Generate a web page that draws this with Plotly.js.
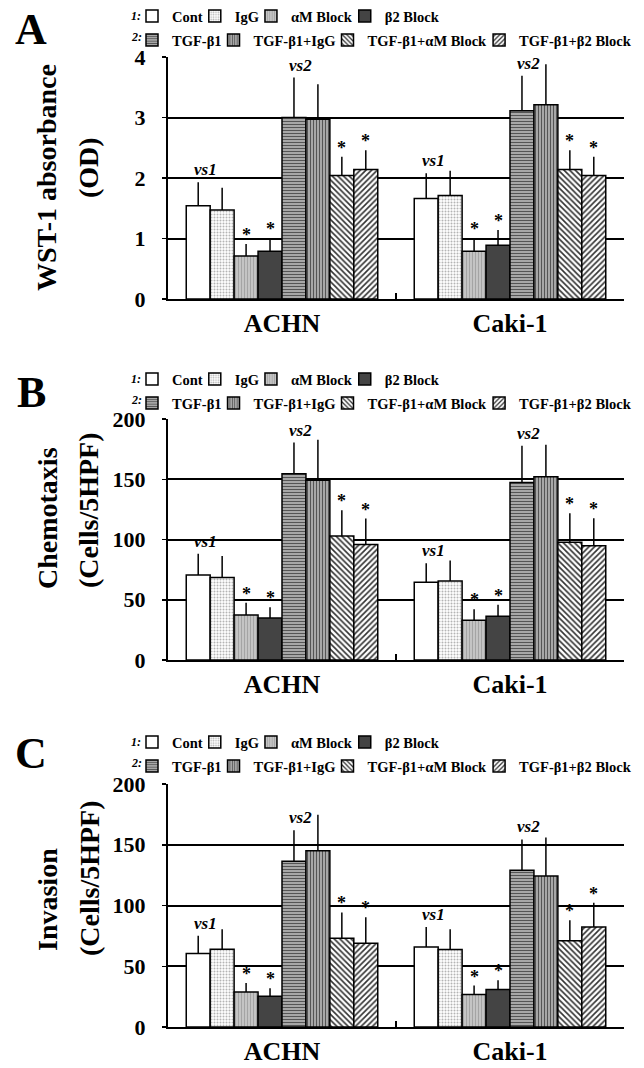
<!DOCTYPE html>
<html>
<head>
<meta charset="utf-8">
<script src="https://cdn.plot.ly/plotly-3.0.1.min.js"></script>
<style>
  html, body { margin: 0; padding: 0; background: #ffffff; }
  #chart { width: 644px; height: 1068px; }
</style>
</head>
<body>
<div id="chart"></div>
<script>
// ---------------- DATA ----------------
const categories = ['ACHN', 'Caki-1'];
const seriesNames = ['Cont', 'IgG', 'αM Block', 'β2 Block',
  'TGF-β1', 'TGF-β1+IgG', 'TGF-β1+αM Block', 'TGF-β1+β2 Block'];

// Panel A: WST-1 absorbance (OD)
const wstACHN    = [1.54, 1.47, 0.71, 0.79, 3.00, 2.97, 2.04, 2.14];
const wstErrACHN = [0.39, 0.37, 0.20, 0.21, 0.66, 0.58, 0.31, 0.32];
const wstCaki    = [1.66, 1.71, 0.79, 0.89, 3.11, 3.21, 2.14, 2.04];
const wstErrCaki = [0.42, 0.41, 0.21, 0.25, 0.58, 0.67, 0.32, 0.31];

// Panel B: Chemotaxis (Cells/5HPF)
const chemoACHN    = [70.6, 68.4, 37.4, 34.9, 154.5, 149.2, 103.0, 95.8];
const chemoErrACHN = [17.5, 18.0, 10.2, 8.9, 26.0, 33.5, 21.3, 21.6];
const chemoCaki    = [64.5, 65.6, 33.0, 36.3, 147.3, 152.0, 97.8, 94.9];
const chemoErrCaki = [15.8, 16.9, 9.1, 9.6, 30.4, 26.6, 24.0, 22.8];

// Panel C: Invasion (Cells/5HPF)
const invACHN    = [60.5, 64.0, 28.8, 25.3, 136.5, 145.0, 73.1, 69.0];
const invErrACHN = [14.5, 16.5, 7.4, 6.6, 25.5, 29.7, 21.2, 21.4];
const invCaki    = [65.9, 63.8, 26.7, 30.8, 129.1, 124.2, 70.9, 82.4];
const invErrCaki = [16.5, 16.7, 7.4, 7.7, 25.3, 31.8, 17.0, 19.8];

// significance marks
const starSeries = [2, 3, 6, 7];
const yTickLabelsA = ['0', '1', '2', '3', '4'];
const yTickLabelsBC = ['0', '50', '100', '150', '200'];

// ---------------- STYLE ----------------
const SERIF = '"Liberation Serif", "Times New Roman", Times, serif';
const W = 644, H = 1068;
const fills = ['#ffffff', '#ffffff', '#b9b9b9', '#444444', '#a8a8a8', '#a8a8a8', '#ffffff', '#ffffff'];
const patterns = [
  {shape: ''},
  {shape: '.', fgcolor: '#b4b4b4', bgcolor: '#ffffff', size: 3, solidity: 0.35},
  {shape: '|', fgcolor: '#a4a4a4', bgcolor: '#c4c4c4', size: 3, solidity: 0.35},
  {shape: ''},
  {shape: '-', fgcolor: '#555555', bgcolor: '#b8b8b8', size: 3, solidity: 0.45},
  {shape: '|', fgcolor: '#555555', bgcolor: '#b8b8b8', size: 3, solidity: 0.45},
  {shape: '\\', fgcolor: '#333333', bgcolor: '#ffffff', size: 4, solidity: 0.4},
  {shape: '/', fgcolor: '#333333', bgcolor: '#ffffff', size: 4, solidity: 0.4}
];

const panels = [
  {letter: 'A', achn: wstACHN, caki: wstCaki, achnErr: wstErrACHN, cakiErr: wstErrCaki,
   ymax: 4, ticks: yTickLabelsA, titles: ['WST-1 absorbance', '(OD)'], titleY: [178, 168],
   top: 57, bottom: 299, letterY: 30, rowY: [16, 40]},
  {letter: 'B', achn: chemoACHN, caki: chemoCaki, achnErr: chemoErrACHN, cakiErr: chemoErrCaki,
   ymax: 200, ticks: yTickLabelsBC, titles: ['Chemotaxis', '(Cells/5HPF)'], titleY: [518, 510],
   top: 419, bottom: 660, letterY: 393, rowY: [379, 403]},
  {letter: 'C', achn: invACHN, caki: invCaki, achnErr: invErrACHN, cakiErr: invErrCaki,
   ymax: 200, ticks: yTickLabelsBC, titles: ['Invasion', '(Cells/5HPF)'], titleY: [900, 878],
   top: 784, bottom: 1027, letterY: 753, rowY: [742, 766]}
];

const BARGAP = 0.16;
const nSeries = seriesNames.length;
const barW = (1 - BARGAP) / nSeries;
const barOffset = i => -(1 - BARGAP) / 2 + barW * (i + 0.5);

const data = [];
const annotations = [];
const layout = {
  width: W, height: H,
  margin: {l: 0, r: 0, t: 0, b: 0},
  paper_bgcolor: '#ffffff', plot_bgcolor: 'rgba(0,0,0,0)',
  barmode: 'group', bargap: BARGAP, bargroupgap: 0,
  font: {family: SERIF, color: '#000000'},
  hovermode: false,
  showlegend: true
};

panels.forEach((p, k) => {
  const sfx = k === 0 ? '' : String(k + 1);
  const xa = 'x' + sfx, ya = 'y' + sfx;

  seriesNames.forEach((name, i) => {
    const legNum = 2 * k + (i < 4 ? 1 : 2);
    data.push({
      type: 'bar', name: name,
      x: categories, y: [p.achn[i], p.caki[i]],
      xaxis: xa, yaxis: ya,
      legend: legNum === 1 ? 'legend' : 'legend' + legNum,
      marker: {color: fills[i], line: {color: '#000000', width: 1.5}, pattern: patterns[i]},
      error_y: {type: 'data', symmetric: false, array: [p.achnErr[i], p.cakiErr[i]],
                arrayminus: [0, 0], color: '#000000', thickness: 1.5, width: 0},
      hoverinfo: 'skip'
    });
  });

  const yDom = [1 - p.bottom / H, 1 - p.top / H];
  layout['xaxis' + sfx] = {
    domain: [168 / W, 624 / W], anchor: ya, type: 'category',
    showline: true, linecolor: '#000000', linewidth: 2,
    ticks: 'inside', tickson: 'boundaries', ticklen: 6, tickwidth: 1.5, tickcolor: '#000000',
    tickfont: {family: SERIF, size: 26, weight: 'bold', color: '#000000'},
    ticklabelstandoff: 0,
    showgrid: false, zeroline: false, fixedrange: true
  };
  const tv = p.ticks.map(Number);
  layout['yaxis' + sfx] = {
    domain: yDom, anchor: xa, range: [0, p.ymax],
    tickmode: 'array', tickvals: tv, ticktext: p.ticks,
    showline: true, linecolor: '#000000', linewidth: 2,
    ticks: 'outside', ticklen: 4, tickwidth: 1.5, tickcolor: '#000000',
    tickfont: {family: SERIF, size: 22, weight: 'bold', color: '#000000'},
    ticklabelstandoff: 12,
    showgrid: true, gridcolor: '#000000', gridwidth: 2,
    zeroline: false, fixedrange: true
  };

  // legends (two rows per panel)
  [0, 1].forEach(r => {
    const legNum = 2 * k + r + 1;
    layout[legNum === 1 ? 'legend' : 'legend' + legNum] = {
      orientation: 'h', x: 145 / W, xanchor: 'left',
      y: 1 - p.rowY[r] / H, yanchor: 'middle',
      font: {family: SERIF, size: 14.5, weight: 'bold', color: '#000000'},
      bgcolor: 'rgba(0,0,0,0)', borderwidth: 0,
      itemwidth: 30, indentation: -13, traceorder: 'normal',
      itemclick: false, itemdoubleclick: false
    };
    annotations.push({
      xref: 'paper', yref: 'paper', x: 136 / W, y: 1 - (p.rowY[r] - (r === 1 ? 3 : 0)) / H,
      xanchor: 'center', yanchor: 'middle', showarrow: false,
      text: (r + 1) + ':',
      font: {family: SERIF, size: 12, weight: 'bold', style: 'italic', color: '#000000'}
    });
  });

  // panel letter
  annotations.push({
    xref: 'paper', yref: 'paper', x: 31 / W, y: 1 - p.letterY / H,
    xanchor: 'center', yanchor: 'middle', showarrow: false, text: p.letter,
    font: {family: SERIF, size: 44, weight: 'bold', color: '#000000'}
  });

  // y titles (two lines)
  [47, 89].forEach((xc, j) => {
    annotations.push({
      xref: 'paper', yref: 'paper', x: xc / W, y: 1 - p.titleY[j] / H,
      xanchor: 'center', yanchor: 'middle', showarrow: false, textangle: -90,
      text: p.titles[j],
      font: {family: SERIF, size: 28, weight: 'bold', color: '#000000'}
    });
  });

  // vs labels and asterisks
  categories.forEach((c, ci) => {
    const vals = ci === 0 ? p.achn : p.caki;
    const errs = ci === 0 ? p.achnErr : p.cakiErr;
    annotations.push({
      xref: xa, yref: ya, x: ci + (barOffset(0) + barOffset(1)) / 2 - 0.02,
      y: vals[0] + errs[0], yanchor: 'bottom', yshift: 1, showarrow: false, text: 'vs1',
      font: {family: SERIF, size: 17, weight: 'bold', style: 'italic', color: '#000000'}
    });
    annotations.push({
      xref: xa, yref: ya, x: ci + (barOffset(4) + barOffset(5)) / 2 - 0.025,
      y: vals[4] + errs[4], yanchor: 'bottom', yshift: 1, showarrow: false, text: 'vs2',
      font: {family: SERIF, size: 17, weight: 'bold', style: 'italic', color: '#000000'}
    });
    starSeries.forEach(i => {
      annotations.push({
        xref: xa, yref: ya, x: ci + barOffset(i), y: vals[i] + errs[i],
        yanchor: 'bottom', yshift: -3, showarrow: false, text: '*',
        font: {family: SERIF, size: 18, weight: 'bold', color: '#000000'}
      });
    });
  });
});

layout.annotations = annotations;

Plotly.newPlot('chart', data, layout, {displayModeBar: false, staticPlot: true});
</script>
</body>
</html>
